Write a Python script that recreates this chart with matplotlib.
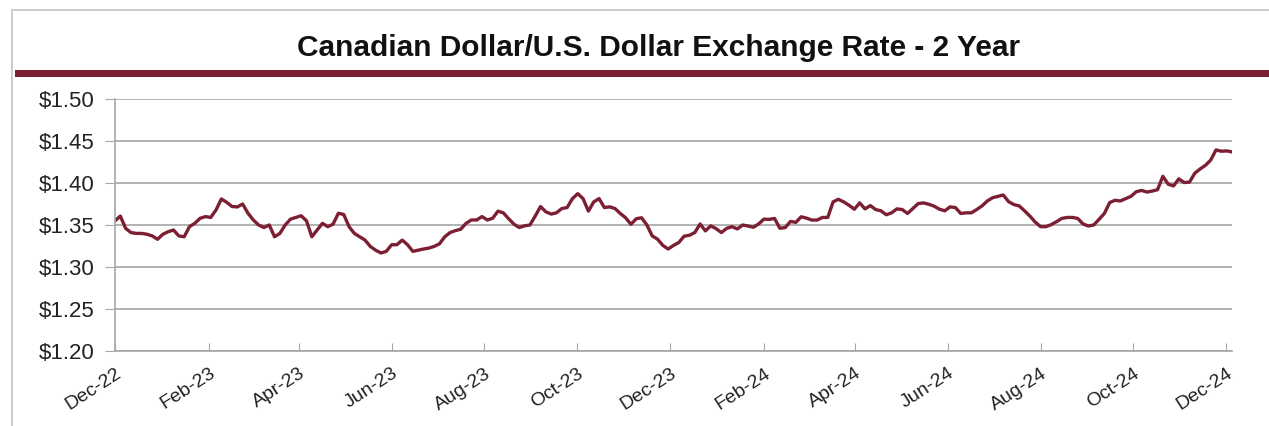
import numpy as np
import pandas as pd
import matplotlib
matplotlib.use("Agg")
from matplotlib import pyplot as plt
import matplotlib.dates as mdates
from matplotlib.patches import Rectangle

# Twice-weekly CAD per USD (Dec-22 .. Dec-24)
start_date = "2022-12-01"
cad_usd = [
    # Dec-22 .. Mar-23
    1.355, 1.3606, 1.346, 1.341, 1.340, 1.340, 1.339, 1.337, 1.333, 1.339,
    1.342, 1.344, 1.337, 1.336, 1.348, 1.352, 1.358, 1.360, 1.359, 1.368,
    1.381, 1.377, 1.372, 1.3715, 1.375, 1.364, 1.356, 1.350, 1.347, 1.350,
    1.336, 1.340, 1.350, 1.357, 1.359, 1.361,
    # Apr-23 .. Jul-23
    1.355, 1.336, 1.344, 1.352, 1.348, 1.351, 1.364, 1.3625, 1.348, 1.340,
    1.336, 1.332, 1.3245, 1.320, 1.3167, 1.3186, 1.3265, 1.3265, 1.332, 1.3265,
    1.3186, 1.320, 1.3214, 1.3225, 1.3245, 1.3276, 1.336, 1.341, 1.3433, 1.345,
    1.352, 1.356, 1.356, 1.360, 1.356, 1.358,
    # Aug-23 .. Nov-23
    1.3665, 1.3645, 1.3575, 1.351, 1.347, 1.349, 1.350, 1.3606, 1.372, 1.3657,
    1.363, 1.3645, 1.3696, 1.3708, 1.3814, 1.3873, 1.3814, 1.3665, 1.3775, 1.3814,
    1.3708, 1.3716, 1.3696, 1.3637, 1.3586, 1.3508, 1.3575, 1.3586, 1.350, 1.337,
    1.3331, 1.3257, 1.3214, 1.3257,
    # Dec-23 .. Mar-24
    1.3292, 1.3367, 1.3378, 1.341, 1.3512, 1.343, 1.349, 1.3457, 1.341, 1.346,
    1.348, 1.3453, 1.350, 1.3488, 1.3473, 1.3512, 1.357, 1.3567, 1.3578, 1.3461,
    1.3469, 1.3543, 1.3531, 1.3598, 1.3582, 1.3559, 1.3559, 1.359, 1.359, 1.3775,
    1.3806, 1.3775, 1.3735, 1.3688, 1.3763,
    # Apr-24 .. Jul-24
    1.3692, 1.3731, 1.3684, 1.3669, 1.3622, 1.3645, 1.3692, 1.3684, 1.3637, 1.3696,
    1.3755, 1.3763, 1.3747, 1.3724, 1.3688, 1.3669, 1.3716, 1.3708, 1.3637, 1.3645,
    1.3645, 1.3684, 1.3727, 1.3786, 1.3825, 1.3841, 1.3857, 1.3778, 1.3743, 1.3727,
    1.3669, 1.3606, 1.3535, 1.348, 1.348,
    # Aug-24 .. Dec-24
    1.3504, 1.3539, 1.3578, 1.359, 1.359, 1.3578, 1.3512, 1.3488, 1.350, 1.3567,
    1.3637, 1.3767, 1.3794, 1.3786, 1.3814, 1.3841, 1.3896, 1.3912, 1.3892, 1.3904,
    1.392, 1.408, 1.3986, 1.3965, 1.4049, 1.4006, 1.401, 1.4116, 1.4167, 1.421,
    1.4273, 1.4394, 1.4378, 1.4382, 1.437,
]
y_ticks = [1.20, 1.25, 1.30, 1.35, 1.40, 1.45, 1.50]
title = "Canadian Dollar/U.S. Dollar Exchange Rate - 2 Year"

maroon = "#7C1F33"
grid_grey = "#A6A6A6"

dates = pd.date_range(start_date, periods=len(cad_usd), freq="84h")

plt.rcParams["font.family"] = ["Liberation Sans", "DejaVu Sans"]

fig = plt.figure(figsize=(12.69, 4.26), dpi=100)
ax = fig.add_axes([115 / 1269, 1 - 351 / 426, (1232 - 115) / 1269, 252 / 426])

# frame around the whole panel and the maroon rule under the title
fig.patches.append(Rectangle((12 / 1269, -0.1), 1.2, 1 - 10 / 426 + 0.1,
                             transform=fig.transFigure, fill=False,
                             edgecolor="#C4C4C4", linewidth=1.2))
fig.patches.append(Rectangle((15 / 1269, 1 - 77 / 426), 1.0, 6.5 / 426,
                             transform=fig.transFigure, facecolor=maroon,
                             edgecolor="none"))
fig.text(0.519, 1 - 48 / 426, title, ha="center", va="center",
         fontsize=21.5, fontweight="bold", color="#111111")

ax.plot(dates, cad_usd, color=maroon, linewidth=2.4, solid_joinstyle="round")

ax.set_ylim(1.20, 1.50)
ax.set_yticks(y_ticks)
ax.set_yticklabels([f"${v:.2f}" for v in y_ticks])
ax.set_xlim(dates[0], dates[-1])
ax.xaxis.set_major_locator(mdates.MonthLocator(bymonth=[12, 2, 4, 6, 8, 10]))
ax.xaxis.set_major_formatter(mdates.DateFormatter("%b-%y"))

ax.grid(axis="y", color=grid_grey, linewidth=1.2)
ax.set_axisbelow(True)
for side in ("top", "right"):
    ax.spines[side].set_visible(False)
for side in ("left", "bottom"):
    ax.spines[side].set_color(grid_grey)
    ax.spines[side].set_linewidth(1.2)

ax.tick_params(axis="y", direction="out", length=7, color=grid_grey,
               labelsize=16, labelcolor="#222222", pad=8)
ax.tick_params(axis="x", direction="in", length=6, color=grid_grey,
               labelsize=14, labelcolor="#222222", pad=10)
for lbl in ax.get_xticklabels():
    lbl.set_rotation(33)
    lbl.set_ha("right")
    lbl.set_rotation_mode("anchor")

fig.savefig("out.png", dpi=100, facecolor="white")
